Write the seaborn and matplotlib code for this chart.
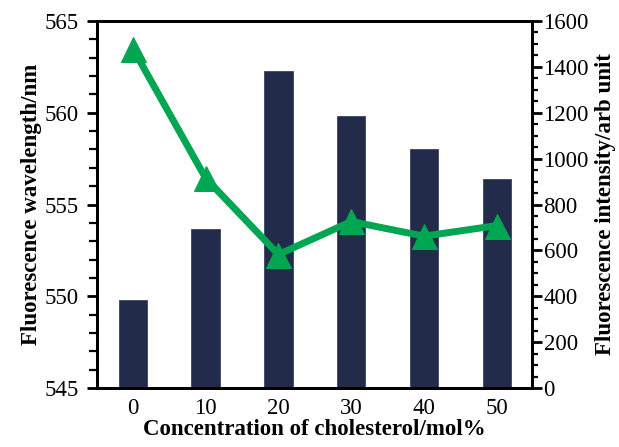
import matplotlib
matplotlib.use("Agg")
import matplotlib.pyplot as plt
from matplotlib.ticker import MultipleLocator
import seaborn as sns
import pandas as pd
import numpy as np

# DATA
conc = ["0", "10", "20", "30", "40", "50"]
wavelength = [549.8, 553.65, 562.3, 559.8, 558.0, 556.4]
intensity = [1480, 915, 582, 726, 662, 708]

df = pd.DataFrame({"conc": conc, "wavelength": wavelength, "intensity": intensity})

sns.set_style("ticks")
plt.rcParams["font.family"] = ["Liberation Serif", "DejaVu Serif"]
plt.rcParams.update({"text.color": "black", "axes.labelcolor": "black",
                     "xtick.color": "black", "ytick.color": "black",
                     "axes.edgecolor": "black"})

fig = plt.figure(figsize=(6.19, 4.47), dpi=100)
ax = fig.add_axes([0.157, 0.132, 0.702, 0.821])

# bars on left axis (baseline at 545)
ax.bar(np.arange(len(conc)), np.array(wavelength) - 545, bottom=545,
       width=0.39, color="#232b4b", edgecolor="#3a4266", linewidth=0.6)
ax.set_ylim(545, 565)
ax.set_xlim(-0.49, 5.48)
ax.set_xticks(np.arange(len(conc)))
ax.set_xticklabels(conc)
ax.yaxis.set_major_locator(MultipleLocator(5))
ax.yaxis.set_minor_locator(MultipleLocator(1))

ax2 = ax.twinx()
sns.lineplot(data=df, x=np.arange(len(conc)), y="intensity", ax=ax2,
             color="#00a651", linewidth=5, marker="^", markersize=18,
             markeredgecolor="#00a651")
ax2.set_ylim(0, 1600)
ax2.yaxis.set_major_locator(MultipleLocator(200))
ax2.yaxis.set_minor_locator(MultipleLocator(50))

for a in (ax, ax2):
    for s in a.spines.values():
        s.set_linewidth(2)
        s.set_color("black")
    a.tick_params(axis="both", labelsize=16.5, width=2, colors="black")
    a.tick_params(which="minor", width=1.6)

ax.tick_params(axis="x", length=0, pad=7)
ax.tick_params(axis="y", which="major", length=7, pad=6)
ax.tick_params(axis="y", which="minor", length=6)
ax2.tick_params(axis="y", which="major", length=7, pad=1.5)
ax2.tick_params(axis="y", which="minor", length=4.5)

ax.set_xlabel("Concentration of cholesterol/mol%", fontsize=16.5, fontweight="bold", labelpad=0)
ax.set_ylabel("Fluorescence wavelength/nm", fontsize=16.5, fontweight="bold", labelpad=2)
ax2.set_ylabel("Fluorescence intensity/arb unit", fontsize=16.5, fontweight="bold", labelpad=4)

fig.savefig("out.png", dpi=100)
